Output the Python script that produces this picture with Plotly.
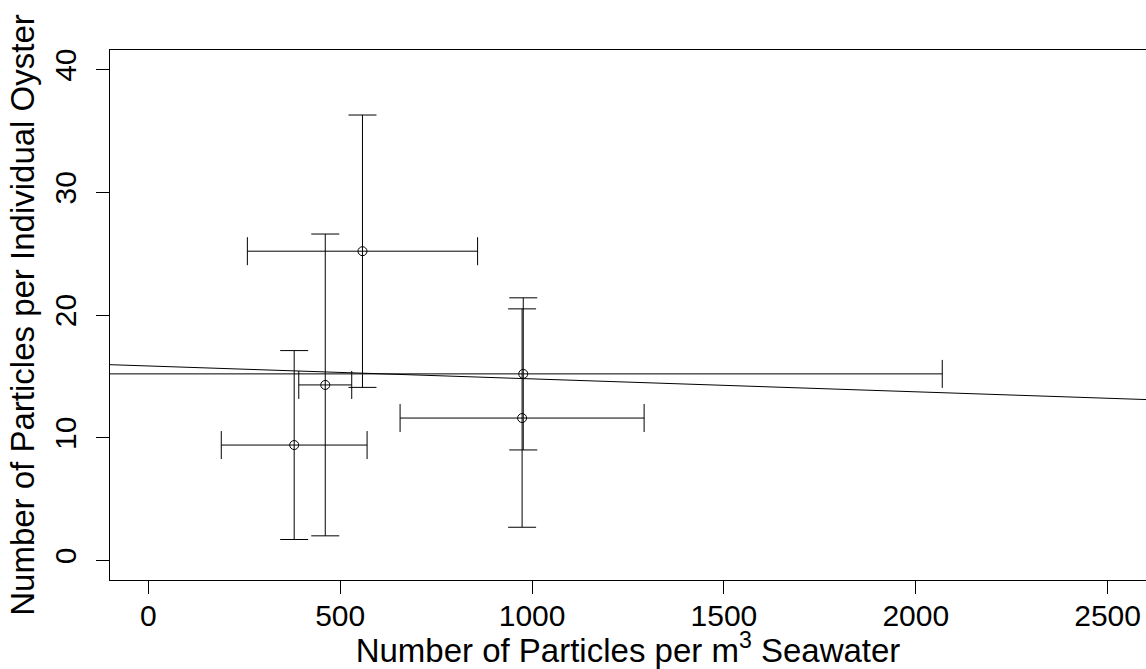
import numpy as np
import plotly.graph_objects as go

# Data
seawater = [380, 461, 558, 977, 974]          # particles per m^3 seawater
oyster = [9.4, 14.3, 25.2, 15.2, 11.6]        # particles per individual oyster
seawater_err = [190, 69, 300, 1092, 318]
oyster_err = [7.7, 12.3, 11.1, 6.2, 8.9]

x_ticks = [0, 500, 1000, 1500, 2000, 2500]
y_ticks = [0, 10, 20, 30, 40]
x_range = [-100, 2600]
y_range = [-1.6, 41.6]

slope, intercept = np.polyfit(seawater, oyster, 1)
fit_x = np.array(x_range, dtype=float)
fit_y = intercept + slope * fit_x

FONT = "Liberation Sans, Arial, sans-serif"

fig = go.Figure()
fig.add_trace(go.Scatter(
    x=fit_x, y=fit_y, mode="lines",
    line=dict(color="black", width=1), showlegend=False, hoverinfo="skip"))
fig.add_trace(go.Scatter(
    x=seawater, y=oyster, mode="markers",
    marker=dict(symbol="circle-open", size=9, color="black", line=dict(width=1, color="black")),
    error_x=dict(type="data", array=seawater_err, visible=True, color="black", thickness=1, width=14),
    error_y=dict(type="data", array=oyster_err, visible=True, color="black", thickness=1, width=14),
    showlegend=False))

fig.update_layout(
    width=1146, height=669,
    margin=dict(l=110, r=0, t=50, b=89),
    paper_bgcolor="white", plot_bgcolor="white",
    font=dict(family=FONT, color="black"),
    xaxis=dict(
        range=x_range, tickvals=x_ticks, ticktext=[str(v) for v in x_ticks],
        showgrid=False, zeroline=False, showline=True, mirror=True,
        linecolor="black", linewidth=1, ticks="outside", ticklen=13, tickcolor="black",
        tickfont=dict(size=30, family=FONT, color="black"), ticklabelstandoff=-4,
        title=dict(text="Number of Particles per m<sup>3</sup> Seawater",
                   font=dict(size=33, family=FONT, color="black"), standoff=10),
    ),
    yaxis=dict(
        range=y_range, tickvals=y_ticks, ticktext=[str(v) for v in y_ticks],
        showgrid=False, zeroline=False, showline=True, mirror=False,
        linecolor="black", linewidth=1, ticks="outside", ticklen=13, tickcolor="black",
        tickangle=-90,
        tickfont=dict(size=30, family=FONT, color="black"), ticklabelstandoff=8,
        title=dict(text="Number of Particles per Individual Oyster",
                   font=dict(size=33, family=FONT, color="black"), standoff=4),
    ),
)

fig.write_html("out.html")
